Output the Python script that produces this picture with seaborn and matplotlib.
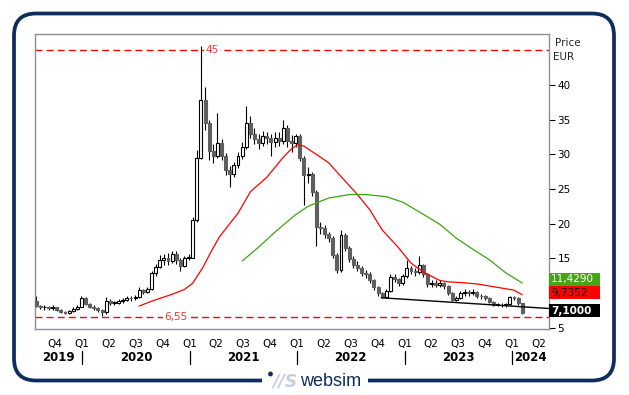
import numpy as np
import pandas as pd
import matplotlib
matplotlib.use("Agg")
import matplotlib.pyplot as plt
import matplotlib.dates as mdates
from matplotlib.patches import FancyBboxPatch, Rectangle, Circle
from matplotlib.transforms import IdentityTransform
import seaborn as sns

# ---------------- data ----------------
start_date = "2019-07-29"          # first (bi-weekly) candle
first_open = 8.9
closes = [8.1, 7.9, 7.9, 7.8, 7.9, 7.6, 7.3, 7.1, 7.4, 7.7,
          8.0, 9.2, 8.4, 8.0, 7.8, 7.6, 7.2, 8.9, 8.5, 8.6,
          8.8, 9.0, 9.3, 9.2, 9.4, 10.4, 10.2, 10.5, 12.9, 13.8,
          14.8, 15.0, 14.6, 15.6, 14.8, 13.9, 15.0, 15.1, 20.5, 29.5,
          37.8, 34.5, 30.5, 29.8, 31.6, 29.8, 27.8, 27.2, 28.5, 29.8,
          31.0, 34.5, 33.0, 32.2, 31.6, 32.6, 32.3, 31.8, 32.4, 32.0,
          33.8, 32.0, 31.6, 32.6, 29.5, 27.0, 27.2, 24.6, 19.5, 19.3,
          18.5, 17.9, 15.5, 13.3, 18.4, 16.5, 14.9, 14.0, 13.6, 12.9,
          12.8, 11.8, 10.8, 10.0, 9.4, 10.3, 12.3, 12.0, 11.4, 12.4,
          13.6, 13.1, 13.0, 14.0, 12.7, 11.3, 11.5, 11.2, 11.4, 11.0,
          10.0, 9.0, 9.2, 10.0, 10.1, 10.0, 10.2, 9.6, 9.5, 9.3,
          8.7, 8.3, 8.3, 8.2, 8.4, 9.4, 9.3, 8.5, 7.1]
highs = [9.5, 8.3, 8.2, 8.1, 8.2, 8.0, 7.7, 7.4, 7.6, 7.9,
         8.3, 9.6, 9.4, 8.6, 8.3, 7.9, 7.7, 9.4, 9.1, 8.9,
         9.1, 9.3, 9.6, 9.6, 9.7, 10.8, 10.6, 10.8, 13.2, 14.2,
         15.5, 15.6, 15.8, 16.1, 16.0, 15.1, 15.3, 15.6, 21.0, 30.6,
         45.6, 39.8, 35.0, 31.5, 36.0, 32.2, 30.2, 28.3, 28.9, 30.4,
         31.8, 37.0, 35.5, 33.8, 32.9, 33.4, 33.3, 32.9, 33.2, 33.2,
         35.0, 34.2, 32.8, 33.0, 33.0, 29.8, 28.2, 27.5, 24.8, 20.3,
         19.8, 18.8, 18.2, 15.8, 19.1, 18.6, 16.8, 15.3, 14.6, 13.9,
         13.3, 13.0, 12.0, 11.0, 10.1, 10.6, 12.7, 12.8, 12.2, 12.8,
         14.8, 13.9, 13.6, 15.3, 14.2, 12.9, 11.9, 11.8, 11.8, 11.6,
         11.1, 10.1, 9.5, 10.3, 10.5, 10.4, 10.6, 10.3, 9.9, 9.7,
         9.4, 8.8, 8.6, 8.5, 8.6, 9.6, 9.6, 9.4, 8.6]
lows = [7.9, 7.7, 7.6, 7.5, 7.6, 7.4, 7.1, 6.9, 6.9, 7.2,
        7.5, 7.9, 8.2, 7.8, 7.6, 7.3, 6.6, 6.9, 8.2, 8.3,
        8.4, 8.6, 8.8, 8.8, 9.0, 9.3, 9.9, 10.0, 10.4, 12.5,
        13.6, 14.0, 14.1, 14.3, 14.2, 13.2, 13.7, 14.8, 15.0, 20.2,
        29.4, 33.5, 29.2, 28.8, 29.5, 29.2, 27.0, 25.3, 26.8, 28.0,
        29.4, 30.8, 32.3, 31.5, 30.8, 31.2, 31.5, 29.8, 31.0, 31.2,
        31.5, 31.0, 30.4, 31.0, 29.0, 22.7, 25.8, 24.0, 16.8, 18.5,
        17.9, 17.3, 15.0, 12.9, 13.0, 16.0, 14.5, 13.6, 13.1, 12.4,
        12.2, 11.4, 10.4, 9.6, 9.2, 9.2, 10.1, 11.6, 11.0, 11.2,
        12.2, 12.7, 12.5, 12.8, 12.3, 10.9, 10.9, 10.8, 10.9, 10.6,
        9.7, 8.8, 8.8, 9.1, 9.6, 9.6, 9.7, 9.3, 9.1, 9.0,
        8.5, 8.1, 8.1, 8.0, 8.0, 8.3, 9.0, 8.3, 6.9]

red_ma_idx = [25, 28, 31, 33, 36, 38, 40.5, 42.5, 44.5, 47, 49, 52, 56, 60, 62, 63.5, 65,
              67, 71, 74, 78, 81, 84, 88, 91, 94, 98, 100, 103, 107, 112, 116, 118]
red_ma_val = [8.1, 8.8, 9.4, 9.8, 10.5, 11.4, 13.7, 16.0, 18.1, 20.0, 21.5, 24.6, 26.7,
              29.6, 30.8, 31.4, 31.2, 30.4, 28.8, 26.8, 24.2, 22.0, 19.1, 16.5, 14.3,
              13.0, 11.8, 11.6, 11.5, 11.3, 10.8, 10.4, 9.7352]
green_ma_idx = [50, 54, 58, 63, 66, 71, 76, 80, 85, 89, 93, 98, 102, 106, 110, 114, 118]
green_ma_val = [14.6, 16.6, 18.8, 21.3, 22.5, 23.7, 24.2, 24.2, 23.9, 23.1, 21.7,
                19.9, 17.9, 16.3, 14.8, 12.9, 11.429]

trend_dates = ["2022-10-14", "2024-05-06"]
trend_values = [9.3, 7.75]

levels = [45.0, 6.55]
level_labels = ["45", "6,55"]
level_label_dates = ["2021-03-18", "2020-11-15"]

last_labels = ["11,4290", "9,7352", "7,1000"]
last_values = [11.429, 9.7352, 7.10]

yticks = [5, 10, 15, 20, 25, 30, 35, 40]
hidden_ytick = 10          # covered by the last-value boxes in the reference
years = [2019, 2020, 2021, 2022, 2023, 2024]
x_start, x_end = "2019-07-25", "2024-05-06"

# ---------------- figure ----------------
W, H = 629, 395
fig = plt.figure(figsize=(W / 100, H / 100), dpi=100)
sns.set_style("white")
plt.rcParams["font.family"] = ["DejaVu Sans"]

L, R, T, B = 35, 549, 34, 329
ax = fig.add_axes([L / W, 1 - B / H, (R - L) / W, (B - T) / H])
ax.set_facecolor("white")

dates = pd.date_range(start_date, periods=len(closes), freq="14D")
opens = [first_open] + closes[:-1]
o = np.array(opens); c = np.array(closes)
hi = np.array(highs); lo = np.array(lows)

# wicks
ax.vlines(dates, lo, hi, color="black", lw=0.8, zorder=2)
# bodies
body_w = pd.Timedelta(days=10)
up = c >= o
bot = np.minimum(o, c)
hgt = np.maximum(np.abs(c - o), 0.12)
ax.bar(dates[up], hgt[up], bottom=bot[up], width=body_w, color="white",
       edgecolor="black", linewidth=0.8, zorder=3)
ax.bar(dates[~up], hgt[~up], bottom=bot[~up], width=body_w, color="#5f5f5f",
       edgecolor="#5f5f5f", linewidth=0.8, zorder=3)

# moving averages and trend
red_df = pd.DataFrame({"date": dates[0] + pd.to_timedelta(np.array(red_ma_idx) * 14, unit="D"),
                       "value": red_ma_val})
green_df = pd.DataFrame({"date": dates[0] + pd.to_timedelta(np.array(green_ma_idx) * 14, unit="D"),
                         "value": green_ma_val})
trend_df = pd.DataFrame({"date": pd.to_datetime(trend_dates), "value": trend_values})
sns.lineplot(data=red_df, x="date", y="value", color="#ff0000", lw=0.9, ax=ax, zorder=4)
sns.lineplot(data=green_df, x="date", y="value", color="#3ea30f", lw=0.9, ax=ax, zorder=4)
sns.lineplot(data=trend_df, x="date", y="value", color="black", lw=1.0, ax=ax, zorder=4)

# dashed levels
for lv, lab, ld in zip(levels, level_labels, level_label_dates):
    ax.axhline(lv, color="#ff0000", lw=1.0, ls=(0, (5, 3)), zorder=1)
    ax.text(pd.Timestamp(ld), lv, lab, color="#ff3030", fontsize=7.5, ha="center",
            va="center", zorder=5,
            bbox=dict(facecolor="white", edgecolor="none", pad=1.2))

ax.set_xlim(pd.Timestamp(x_start), pd.Timestamp(x_end))
ax.set_ylim(4.79, 47.38)
ax.set_xlabel(""); ax.set_ylabel("")

for s in ax.spines.values():
    s.set_color("#8e8e9e"); s.set_linewidth(1.0)

ax.yaxis.tick_right()
ax.set_yticks(yticks)
ax.set_yticklabels(["" if v == hidden_ytick else str(v) for v in yticks])
ax.tick_params(axis="y", length=4, width=0.8, color="black", labelsize=7.5, pad=2,
               labelcolor="black", left=False, right=True)

# quarter labels
quarters = pd.date_range("2019-10-01", "2024-04-01", freq="QS")
ax.set_xticks(quarters)
ax.set_xticklabels([f"Q{q.quarter}" for q in quarters])
ax.tick_params(axis="x", length=0, labelsize=7.5, pad=7, labelcolor="black")

# year labels & separators
xtr = ax.get_xaxis_transform()
xmin, xmax = ax.get_xlim()
for yv in years:
    a = max(mdates.date2num(pd.Timestamp(f"{yv}-01-01")), xmin)
    b = min(mdates.date2num(pd.Timestamp(f"{yv + 1}-01-01")), xmax)
    ax.text((a + b) / 2, -0.095, str(yv), transform=xtr, ha="center", va="center",
            fontsize=8.5, fontweight="bold", color="black", clip_on=False)
    if yv > years[0]:
        ax.plot([a, a], [-0.075, -0.12], transform=xtr, color="black", lw=0.9,
                clip_on=False)

# Price / EUR header
fig.text(555 / W, 1 - 43 / H, "Price", fontsize=7.5, va="center", ha="left")
fig.text(553 / W, 1 - 57 / H, "EUR", fontsize=7.5, va="center", ha="left")

# last value boxes
box_cols = ["#48a414", "#ff0000", "#000000"]
txt_cols = ["white", "black", "white"]
weights = ["normal", "normal", "bold"]
shifts = [4, 2, 2]
ident = IdentityTransform()
for val, lab, fc, tc, fw, sh in zip(last_values, last_labels, box_cols, txt_cols, weights, shifts):
    ypix = ax.transData.transform((0, val))[1] + sh
    fig.add_artist(Rectangle((R, ypix - 6.5), 51, 13, transform=ident, facecolor=fc,
                             edgecolor="none", zorder=6))
    fig.text(R + 2, ypix, lab, transform=ident, color=tc, fontsize=7.5, fontweight=fw,
             va="center", ha="left", zorder=7)

# frame
fig.add_artist(FancyBboxPatch((14, H - 380.5), 600, 367, boxstyle="round,pad=0,rounding_size=22",
                              transform=ident, fill=False, edgecolor="#0d2d5e", lw=2.7, zorder=8))
fig.add_artist(Rectangle((262, H - 386), 106, 12, transform=ident, facecolor="white",
                         edgecolor="none", zorder=9))
fig.add_artist(Circle((270.5, H - 374), 2.4, transform=ident, facecolor="#0d2d5e",
                      edgecolor="none", zorder=10))
fig.text(273, H - 382, "//S", transform=ident, color="#c5d0dc", fontsize=12.5,
         fontweight="bold", style="italic", va="center", ha="left", zorder=10)
fig.text(300, H - 382, "websim", transform=ident, color="#0d2d5e", fontsize=13,
         family="Liberation Sans", va="center", ha="left", zorder=10)

fig.savefig("out.png", dpi=100, facecolor="white")
